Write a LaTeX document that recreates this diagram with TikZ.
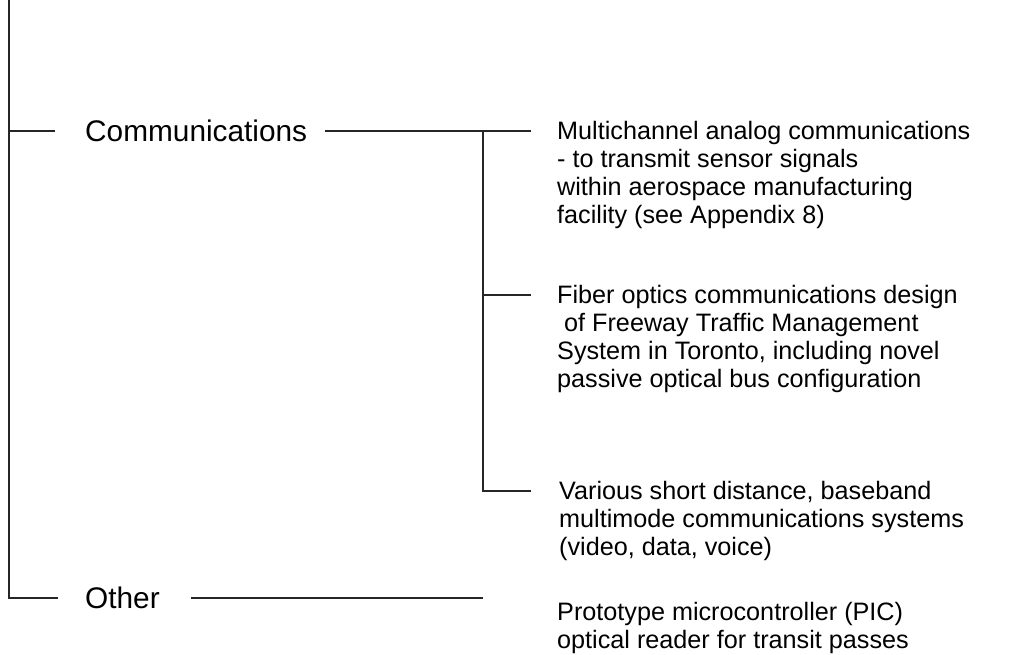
\documentclass[tikz,border=0pt]{standalone}
\usepackage{fontspec}
\setmainfont{Liberation Sans}

\begin{document}
\begin{tikzpicture}[x=1pt,y=-1pt,
  link/.style={line width=1.2pt,black!85},
  head/.style={inner sep=0pt,anchor=west,font=\fontsize{29.8}{34}\selectfont},
  item/.style={inner sep=0pt,anchor=north west,align=left,font=\fontsize{25.2}{28}\selectfont}]
	\useasboundingbox (0,0) rectangle (1013,655);
	\node[head] (comm) at (85,131) {Communications};
	\node[head] (other) at (85,598) {Other};
	\node[item] (multi) at (557,121) {Multichannel analog communications\\- to transmit sensor signals\\within aerospace manufacturing\\facility (see Appendix 8)};
	\node[item] (fiber) at (557,285) {Fiber optics communications design\\\mbox{}\ of Freeway Traffic Management\\System in Toronto, including novel\\passive optical bus configuration};
	\node[item] (short) at (559,481) {Various short distance, baseband\\multimode communications systems\\(video, data, voice)};
	\node[item] (proto) at (557,602) {Prototype microcontroller (PIC)\\optical reader for transit passes};
	\coordinate (top) at (9,0);
	\coordinate (bot) at (9,598);
	\coordinate (fork) at (483,131);
	\coordinate (t1) at (531,131);
	\coordinate (t2) at (531,295);
	\coordinate (t3) at (531,491);
	\draw[link] (top) -- (bot) -- ([xshift=-27pt]other.west);
	\draw[link] (top |- comm) -- ([xshift=-30pt]comm.west);
	\draw[link] ([xshift=18pt]comm.east) -- (t1);
	\draw[link] (fork) |- (t3);
	\draw[link] (fork |- t2) -- (t2);
	\draw[link] ([xshift=31pt]other.east) -- (other -| fork);
\end{tikzpicture}
\end{document}
